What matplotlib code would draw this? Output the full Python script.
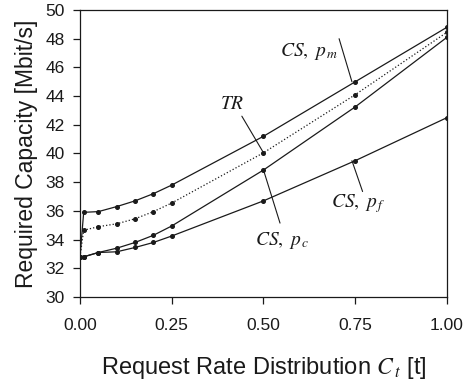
import matplotlib
matplotlib.use("Agg")
import matplotlib.pyplot as plt

plt.rcParams["font.family"] = ["Liberation Sans", "DejaVu Sans"]
plt.rcParams["mathtext.fontset"] = "stix"

# request rate distribution C_t
ct = [0.0, 0.01, 0.05, 0.10, 0.15, 0.20, 0.25, 0.50, 0.75, 1.00]

# required capacity [Mbit/s] per strategy
cs_pm = [32.8, 35.9, 35.95, 36.3, 36.7, 37.2, 37.8, 41.2, 45.0, 48.8]
tr = [32.8, 34.65, 34.9, 35.1, 35.45, 35.95, 36.55, 40.05, 44.1, 48.45]
cs_pc = [32.8, 32.8, 33.1, 33.4, 33.8, 34.3, 34.95, 38.85, 43.25, 48.1]
cs_pf = [32.8, 32.8, 33.1, 33.15, 33.45, 33.8, 34.25, 36.7, 39.5, 42.5]

ink = "#1a1a1a"

fig = plt.figure(figsize=(4.66, 3.85), dpi=100)
ax = fig.add_axes([0.1717, 0.2286, 0.7875, 0.7454])

for ys, ls in [(cs_pm, "-"), (tr, ":"), (cs_pc, "-"), (cs_pf, "-")]:
    ax.plot(ct, ys, color=ink, lw=0.9, ls=ls, marker="o", ms=2.6,
            mfc=ink, mec=ink)

ax.set_xlim(0, 1)
ax.set_ylim(30, 50)
ax.set_xticks([0, 0.25, 0.5, 0.75, 1.0])
ax.set_xticklabels(["0.00", "0.25", "0.50", "0.75", "1.00"])
ax.set_yticks(range(30, 51, 2))
ax.tick_params(direction="out", length=5, width=0.9, labelsize=12.5,
               colors=ink, pad=6)
ax.tick_params(axis="x", pad=10)
for sp in ax.spines.values():
    sp.set_color(ink)
    sp.set_linewidth(0.9)

ax.set_ylabel("Required Capacity [Mbit/s]", fontsize=16.5, color=ink,
              labelpad=5)
ax.set_xlabel(r"Request Rate Distribution $C_{\,t}$ [t]", fontsize=17,
              color=ink, labelpad=16)

# curve labels with leader lines: (text, text pos, line start, line end)
labels = [
    (r"$TR$", (0.414, 43.4), (0.441, 42.6), (0.5, tr[7])),
    (r"$CS,\ p_{\,m}$", (0.624, 47.1), (0.706, 48.0), (0.741, cs_pm[8])),
    (r"$CS,\ p_{\,f}$", (0.757, 36.5), (0.741, 39.5), (0.77, 37.35)),
    (r"$CS,\ p_{\,c}$", (0.55, 33.95), (0.5, cs_pc[7]), (0.545, 35.15)),
]
for text, tpos, p0, p1 in labels:
    ax.text(*tpos, text, fontsize=14, color=ink, ha="center", va="center")
    ax.annotate("", xy=p1, xytext=p0,
                arrowprops=dict(arrowstyle="-", color=ink, lw=0.8,
                                shrinkA=0, shrinkB=0))

fig.savefig("out.png", dpi=100)
